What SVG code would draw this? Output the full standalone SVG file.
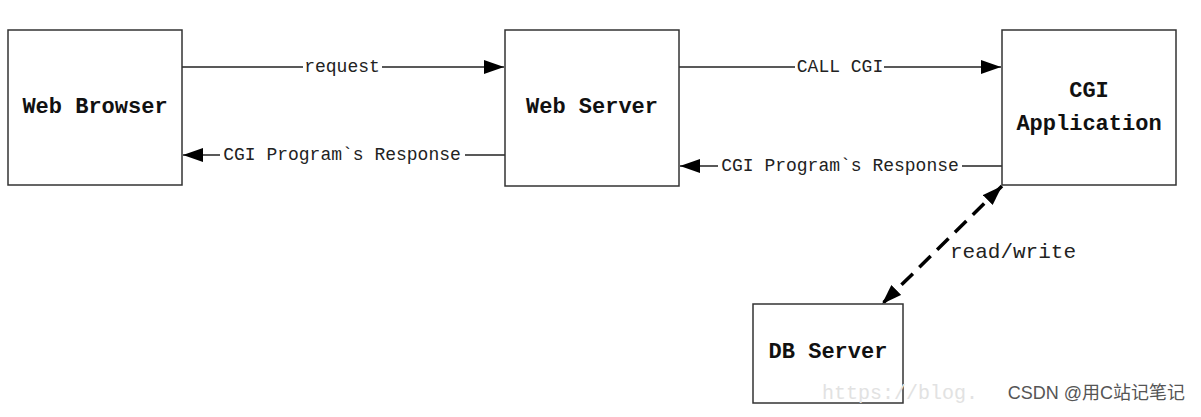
<svg xmlns="http://www.w3.org/2000/svg" width="1201" height="417" viewBox="0 0 1201 417">
<style>
.box{fill:#fff;stroke:#333;stroke-width:1.5}
.nl{font-family:"Liberation Mono",monospace;font-weight:bold;font-size:22px;fill:#111;text-anchor:middle;dominant-baseline:central}
.el{font-family:"Liberation Mono",monospace;font-size:18px;fill:#222;text-anchor:middle;dominant-baseline:central}
.ln{stroke:#222;stroke-width:1.5;fill:none}
.bg{fill:#fff}
</style>
<defs>
<marker id="ah" viewBox="0 0 20 14" refX="20" refY="7" markerWidth="20" markerHeight="14" markerUnits="userSpaceOnUse" orient="auto-start-reverse">
<path d="M0,0 L20,7 L0,14 Z" fill="#000"/>
</marker>
</defs>
<rect width="1201" height="417" fill="#fff"/>
<g id="connectors">
<line class="ln" x1="182" y1="67" x2="504" y2="67" marker-end="url(#ah)"/>
<rect class="bg" x="303" y="57" width="79" height="20"/>
<text class="el" x="342" y="67">request</text>
<line class="ln" x1="505" y1="155" x2="183" y2="155" marker-end="url(#ah)"/>
<rect class="bg" x="220" y="145" width="245" height="20"/>
<text class="el" x="342" y="155">CGI Program`s Response</text>
<line class="ln" x1="679" y1="67" x2="1001" y2="67" marker-end="url(#ah)"/>
<rect class="bg" x="795" y="57" width="89" height="20"/>
<text class="el" x="840" y="67">CALL CGI</text>
<line class="ln" x1="1002" y1="166" x2="680" y2="166" marker-end="url(#ah)"/>
<rect class="bg" x="718" y="156" width="244" height="20"/>
<text class="el" x="840" y="166">CGI Program`s Response</text>
<line x1="1002" y1="186" x2="882" y2="304" stroke="#000" stroke-width="3.5" stroke-dasharray="16 9" marker-start="url(#ah)" marker-end="url(#ah)"/>
<text class="el" x="1013" y="252" style="font-size:21px">read/write</text>
</g>
<g id="web-browser">
<rect class="box" x="8" y="30" width="174" height="155"/>
<text class="nl" x="95" y="107">Web Browser</text>
</g>
<g id="web-server">
<rect class="box" x="505" y="30" width="174" height="156"/>
<text class="nl" x="592" y="107">Web Server</text>
</g>
<g id="cgi-application">
<rect class="box" x="1002" y="30" width="174" height="155"/>
<text class="nl" x="1089" y="91">CGI</text>
<text class="nl" x="1089" y="124">Application</text>
</g>
<g id="db-server">
<rect class="box" x="753" y="304" width="150" height="99"/>
<text class="nl" x="828" y="352">DB Server</text>
</g>
<text x="822" y="399" style="font-family:'Liberation Mono',monospace;font-size:20px;fill:#e2e2e2">https://blog.</text>
<text x="1185" y="399" style="font-family:'Liberation Sans','Noto Sans CJK SC',sans-serif;font-size:18px;fill:#555;text-anchor:end">CSDN @用C站记笔记</text>
</svg>
